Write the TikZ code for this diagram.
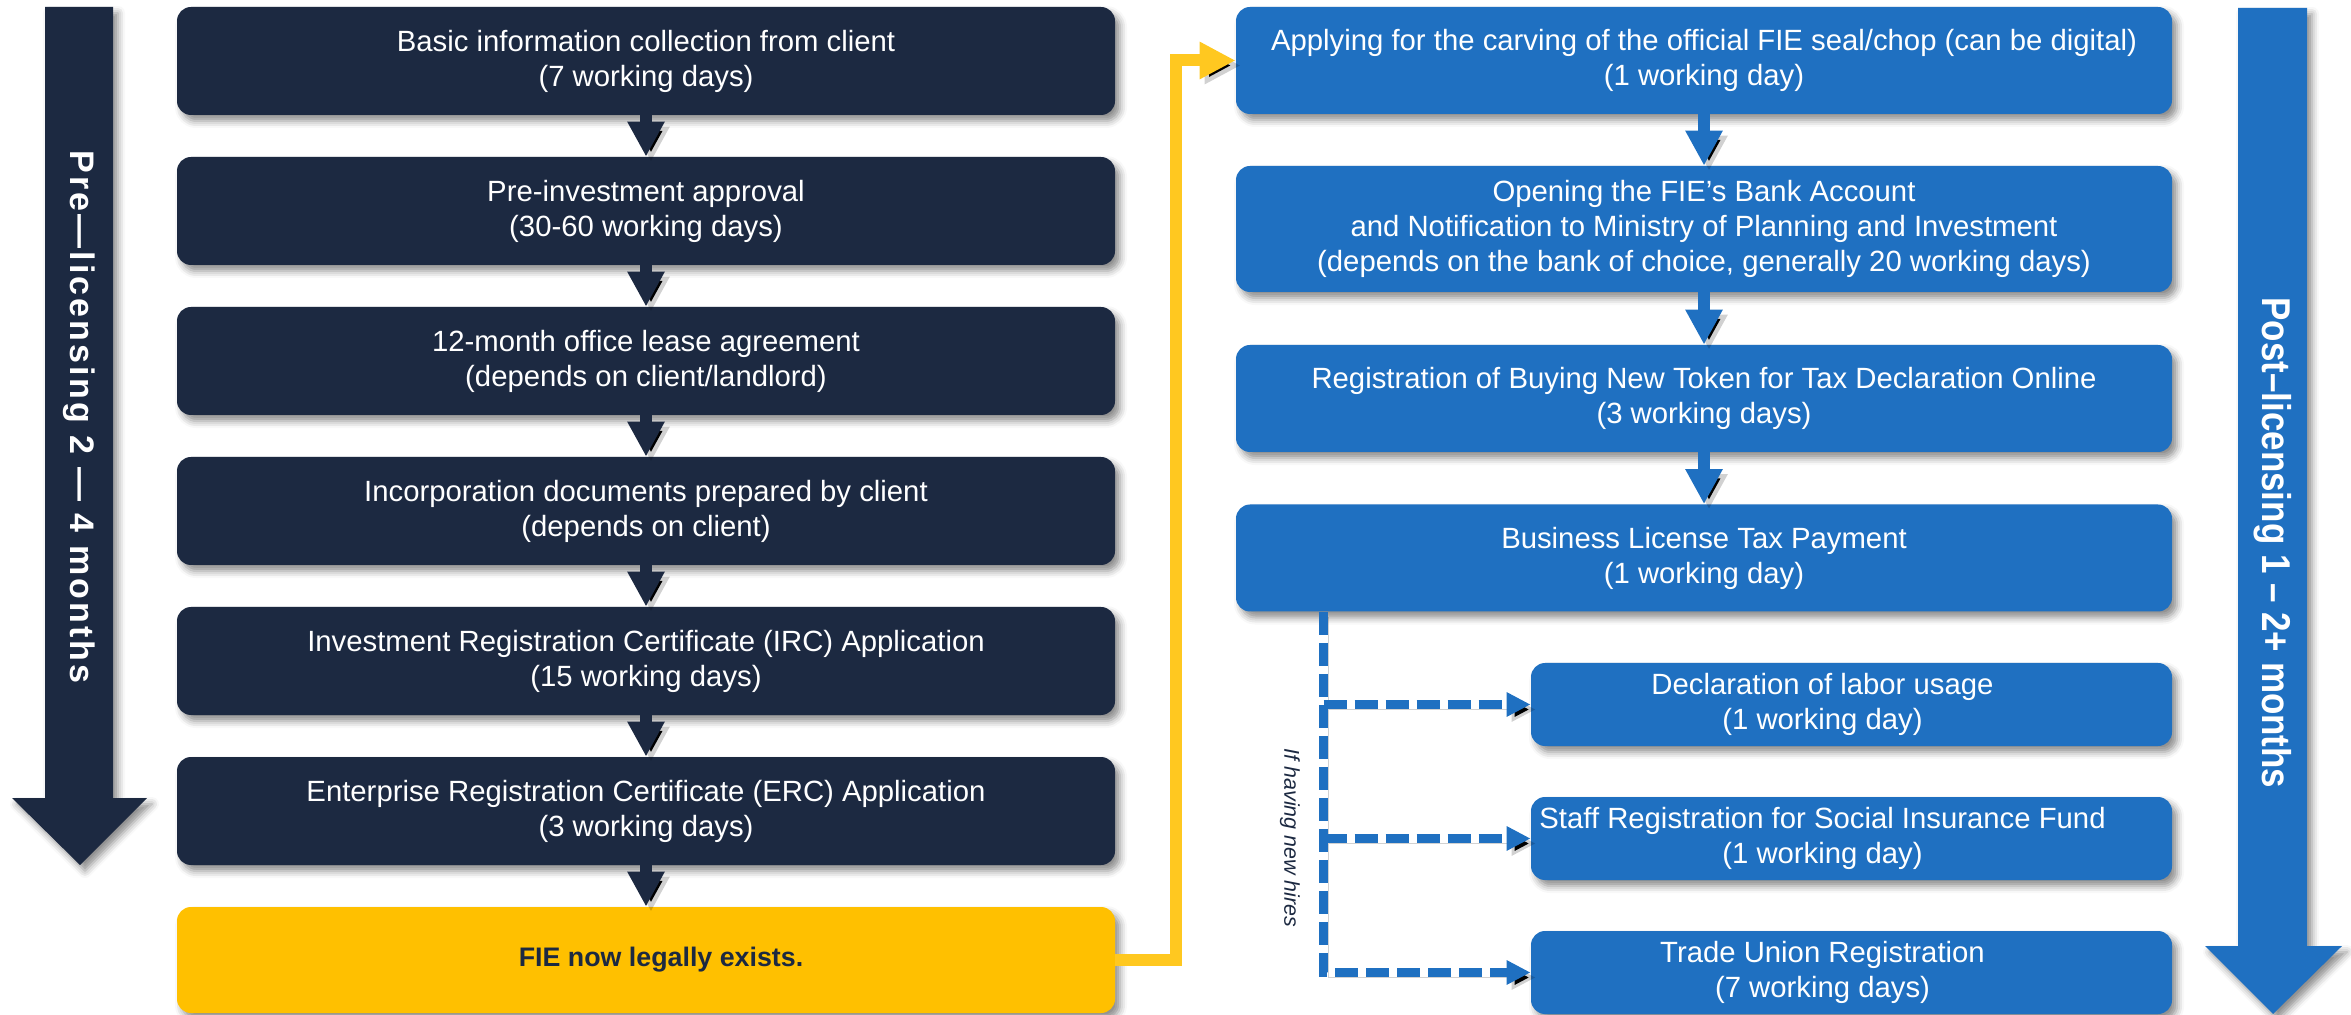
\documentclass[tikz,border=0pt]{standalone}
\usepackage{fontspec}
\setmainfont{Liberation Sans}
\newfontfamily\postfont[FakeStretch=0.87]{Liberation Sans}
\usetikzlibrary{arrows.meta,shadows.blur,calc}
\definecolor{navy}{HTML}{1C2941}
\definecolor{pblue}{HTML}{1F70C1}
\definecolor{pyellow}{HTML}{FFC000}
\definecolor{plyellow}{HTML}{FFC820}
\begin{document}
\begin{tikzpicture}[x=0.5pt,y=-0.5pt,
  shad/.style={blur shadow={shadow xshift=2.5pt,shadow yshift=-3pt,shadow blur radius=3.5pt,shadow opacity=45}},
  lshad/.style={preaction={draw=black, draw opacity=0.18, transform canvas={shift={(2.5pt,-2.5pt)}}}},
  boxtext/.style={text=white, align=center, font=\fontsize{14.65}{17.5}\selectfont},
  lbox/.style={shad, fill=navy, rounded corners=7pt, minimum width=469pt, minimum height=54pt, inner sep=0pt, boxtext},
  ybox/.style={shad, fill=pyellow, rounded corners=7pt, minimum width=469pt, minimum height=53pt, inner sep=0pt, align=center, text=navy, font=\fontsize{13.4}{16}\selectfont\bfseries},
  rbox/.style={shad, fill=pblue, rounded corners=7pt, minimum width=468pt, minimum height=53.5pt, inner sep=0pt, boxtext},
  sbox/.style={shad, fill=pblue, rounded corners=7pt, minimum width=320.5pt, minimum height=41.5pt, inner sep=0pt},
  stext/.style={boxtext, inner sep=0pt},
  lconn/.style={lshad, draw=navy, line width=6pt, -{Triangle[length=17.5pt,width=17.5pt]}},
  rconn/.style={lshad, draw=pblue, line width=6pt, -{Triangle[length=17.5pt,width=17.5pt]}},
  yconn/.style={lshad, draw=plyellow, line width=6pt, line join=miter, -{Triangle[length=18pt,width=17.5pt]}},
  dconn/.style={lshad, draw=pblue, line width=4.2pt, dash pattern=on 11.5pt off 4pt, -{Triangle[length=12pt,width=11.5pt]}},
  bigtext/.style={text=white, rotate=-90, inner sep=0pt}
]
\useasboundingbox (0,0) rectangle (2351,1015);
% big side arrows
\fill[navy, shad] (45,7) -- (113,7) -- (113,798) -- (147,798) -- (80,865) -- (12,798) -- (45,798) -- cycle;
\node[bigtext, font=\fontsize{17}{19}\selectfont\bfseries] (pre) at (79,417) {\addfontfeatures{LetterSpace=9}Pre—licensing 2 — 4 months};
\fill[pblue, shad] (2238,8) -- (2307,8) -- (2307,946) -- (2342,946) -- (2273,1014) -- (2205,946) -- (2238,946) -- cycle;
\node[bigtext, font=\postfont\fontsize{20.1}{22}\selectfont\bfseries] (post) at (2273,543) {Post–licensing 1 – 2+ months};
% left column
\node[lbox] (l1) at (646,61) {Basic information collection from client\\(7 working days)};
\node[lbox] (l2) at (646,211) {Pre-investment approval\\(30-60 working days)};
\node[lbox] (l3) at (646,361) {12-month office lease agreement\\(depends on client/landlord)};
\node[lbox] (l4) at (646,511) {Incorporation documents prepared by client\\(depends on client)};
\node[lbox] (l5) at (646,661) {Investment Registration Certificate (IRC) Application\\(15 working days)};
\node[lbox] (l6) at (646,811) {Enterprise Registration Certificate (ERC) Application\\(3 working days)};
\node[ybox] (l7) at (646,960) {};
\node[inner sep=0pt, text=navy, font=\fontsize{13.4}{16}\selectfont\bfseries] (l7t) at ($(l7)+(15,0)$) {FIE now legally exists.};
\draw[lconn] (l1) -- (l2);
\draw[lconn] (l2) -- (l3);
\draw[lconn] (l3) -- (l4);
\draw[lconn] (l4) -- (l5);
\draw[lconn] (l5) -- (l6);
\draw[lconn] (l6) -- (l7);
% right column
\node[rbox] (r1) at (1704,60.5) {Applying for the carving of the official FIE seal/chop (can be digital)\\(1 working day)};
\node[rbox, minimum height=63pt] (r2) at (1704,229) {Opening the FIE’s Bank Account\\and Notification to Ministry of Planning and Investment\\(depends on the bank of choice, generally 20 working days)};
\node[rbox] (r3) at (1704,398.5) {Registration of Buying New Token for Tax Declaration Online\\(3 working days)};
\node[rbox] (r4) at (1704,558) {Business License Tax Payment\\(1 working day)};
\draw[rconn] (r1) -- (r2);
\draw[rconn] (r2) -- (r3);
\draw[rconn] (r3) -- (r4);
\node[sbox] (sA) at (1851.5,704.5) {};
\node[sbox] (sB) at (1851.5,838.5) {};
\node[sbox] (sC) at (1851.5,972.5) {};
\node[stext] (sAt) at ($(sA)+(-29,0)$) {Declaration of labor usage\\(1 working day)};
\node[stext] (sBt) at ($(sB)+(-29,0)$) {Staff Registration for Social Insurance Fund\\(1 working day)};
\node[stext] (sCt) at ($(sC)+(-29,0)$) {Trade Union Registration\\(7 working days)};
% yellow link
\draw[yconn] (l7.east) -- ++(61,0) |- (r1.west);
% dashed branches
\coordinate (tr) at ($(r4.south west)+(88,0)$);
\draw[dconn] (tr) |- (sC.west);
\draw[dconn] (tr |- sA.west) -- (sA.west);
\draw[dconn] (tr |- sB.west) -- (sB.west);
\node[rotate=-90, text=navy, font=\fontsize{10.7}{12}\selectfont\itshape, inner sep=0pt] (hires) at (1290,838) {If having new hires};
\end{tikzpicture}
\end{document}
